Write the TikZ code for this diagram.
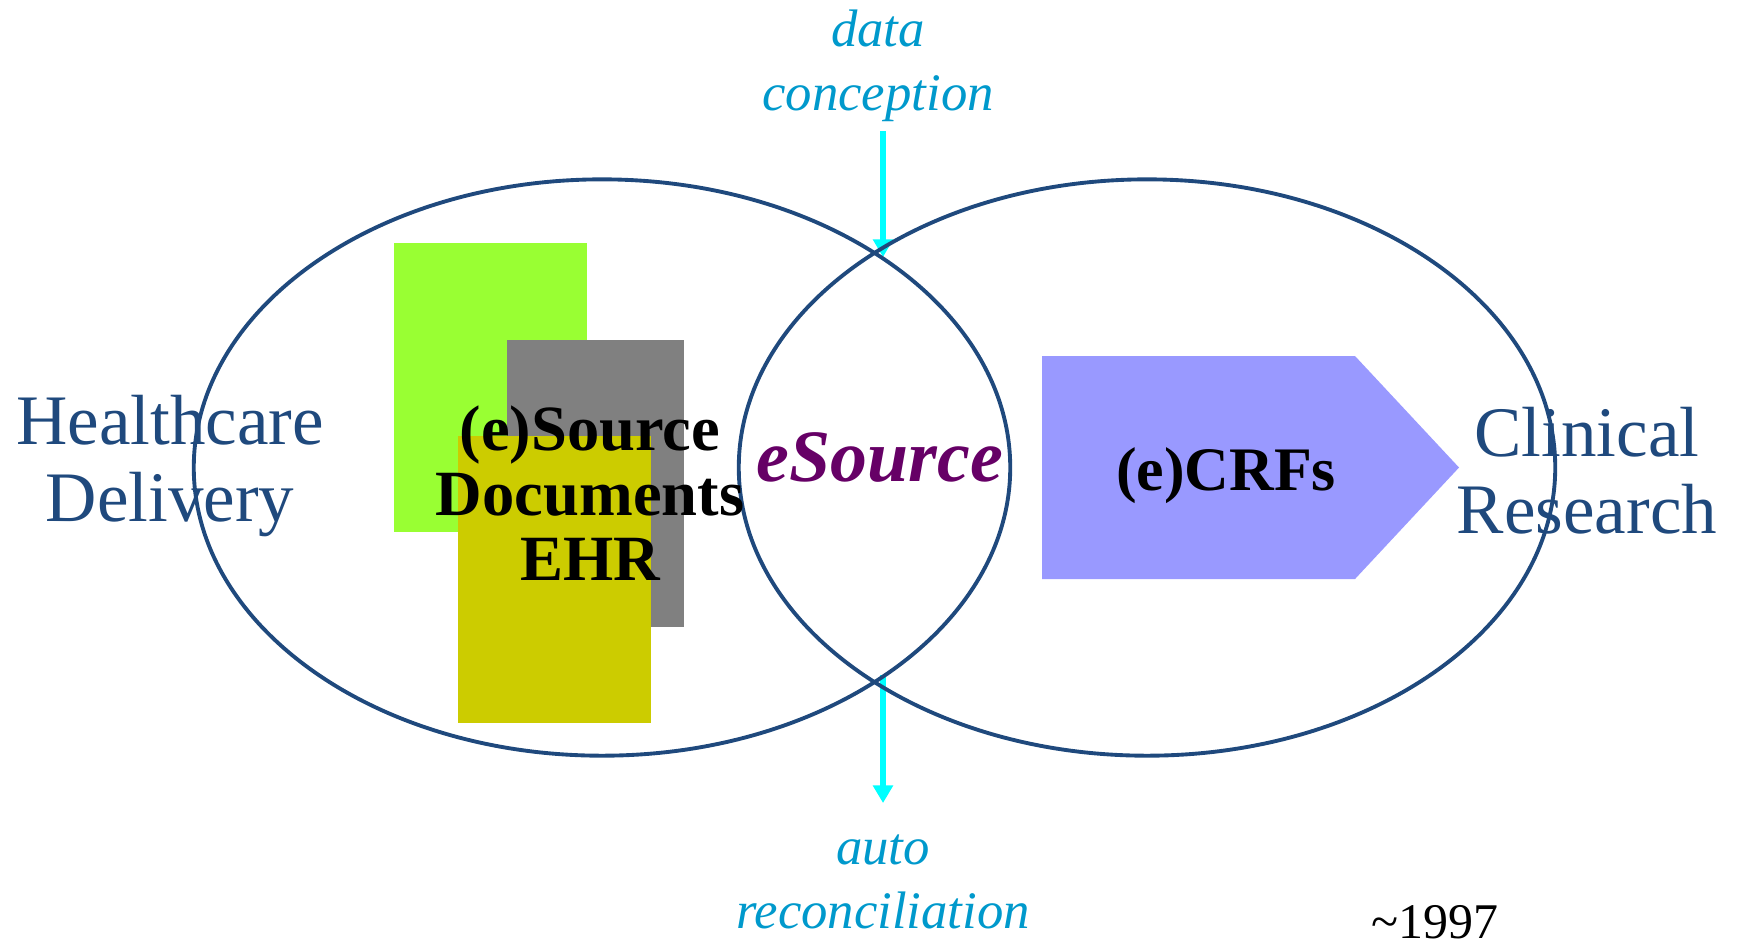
\documentclass[tikz,border=0pt]{standalone}
\usepackage{fontspec}
\setmainfont{Liberation Serif}
\usetikzlibrary{arrows.meta}

\definecolor{ringblue}{HTML}{1F497D}
\definecolor{leafgreen}{HTML}{99FF33}
\definecolor{sheetgray}{HTML}{808080}
\definecolor{sheetolive}{HTML}{CCCC00}
\definecolor{crfblue}{HTML}{9999FF}
\definecolor{esrcpurple}{HTML}{660066}
\definecolor{notecyan}{HTML}{0099CC}
\definecolor{feedcyan}{HTML}{00FFFF}

\tikzset{
  ring/.style={draw=ringblue, line width=1.1pt},
  arealabel/.style={text=ringblue, align=center, inner sep=0pt,
    font=\fontsize{20.2}{21.9}\selectfont},
  sidenote/.style={text=notecyan, align=center, inner sep=0pt,
    font=\fontsize{15}{18.2}\selectfont\itshape},
  feed/.style={draw=feedcyan, line width=1.7pt,
    -{Triangle[length=5pt,width=5.5pt]}}
}

\begin{document}
\begin{tikzpicture}[x=0.01cm, y=-0.01cm]
    \useasboundingbox (0,0) rectangle (1737,947);

    \coordinate (hd) at (602,467.5);
    \coordinate (cr) at (1147,467.5);
    \coordinate (t0) at (883,131);
    \coordinate (t1) at (883,257);
    \coordinate (b0) at (883,675);
    \coordinate (b1) at (883,803);
    \coordinate (p1) at (1042,356);
    \coordinate (p2) at (1355,356);
    \coordinate (p3) at (1459,467.5);
    \coordinate (p4) at (1355,579);
    \coordinate (p5) at (1042,579);

    % source sheets
    \fill[leafgreen] (394,243) rectangle (587,532);
    \fill[sheetgray] (507,340) rectangle (684,627);
    \fill[sheetolive] (458,436) rectangle (651,723);

    \fill[crfblue] (p1)--(p2)--(p3)--(p4)--(p5)--cycle;

    \draw[feed] (t0) -- (t1);
    \draw[feed] (b0) -- (b1);

    \foreach \c in {hd,cr}
    \draw[ring] (\c) ellipse [x radius=4.08cm, y radius=2.88cm];

    \node[arealabel] (care) at (170,466) {Healthcare\\Delivery};
    \node[arealabel] (research) at (1587,471) {Clinical\\Research};

    \node[align=center, inner sep=0pt, font=\fontsize{18.35}{18.5}\selectfont\bfseries]
      (docs) at (590,493) {(e)Source\\Documents\\EHR};
    \node[inner sep=0pt, text=esrcpurple, font=\fontsize{21}{24}\selectfont\bfseries\itshape]
      (esrc) at (880,457) {eSource};
    \node[inner sep=0pt, font=\fontsize{17.6}{20}\selectfont\bfseries]
      (crf) at (1226,476) {(e)CRFs};

    \node[sidenote] (conc) at (878,66) {data\\conception};
    \node[sidenote] (recon) at (883,882) {auto\\reconciliation};

    \node[inner sep=0pt, font=\fontsize{14.2}{16}\selectfont] (year) at (1435,922) {\textasciitilde1997};

\end{tikzpicture}
\end{document}
